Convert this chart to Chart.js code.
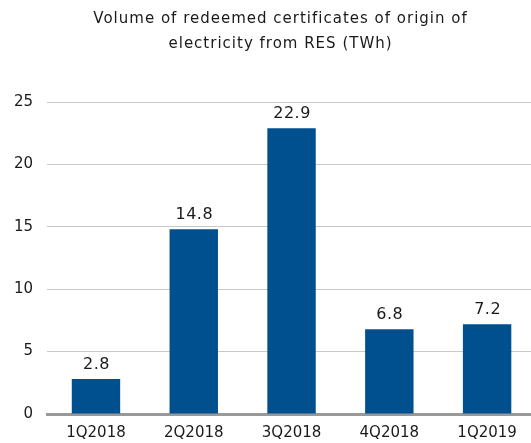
<!DOCTYPE html>
<html>
<head>
<meta charset="utf-8">
<script src="https://cdn.jsdelivr.net/npm/chart.js@4"></script>
<style>
  html, body { margin: 0; padding: 0; background: #fff; overflow: hidden; }
  /* la zone de tracé déborde à droite comme dans l'original */
  #wrap { width: 536px; height: 443px; }
</style>
</head>
<body>
<div id="wrap"><canvas id="chart"></canvas></div>
<script>
// données du graphique
const categories = ['1Q2018', '2Q2018', '3Q2018', '4Q2018', '1Q2019'];
const volumes = [2.8, 14.8, 22.9, 6.8, 7.2];
const titleLines = ['Volume of redeemed certificates of origin of', 'electricity from RES (TWh)'];

const FONT = '"DejaVu Sans", Verdana, sans-serif';

// titre (centré un peu à gauche du milieu de la zone de tracé)
const titlePlugin = {
    id: 'titleOverArea',
    afterDraw(chart) {
        const ctx = chart.ctx;
        const area = chart.chartArea;
        const cx = (area.left + area.right) / 2 - 11;
        ctx.save();
        ctx.font = '15px ' + FONT;
        ctx.letterSpacing = '1px';
        ctx.fillStyle = '#1a1a1a';
        ctx.textAlign = 'center';
        ctx.textBaseline = 'middle';
        titleLines.forEach((line, i) => ctx.fillText(line, cx, 19 + i * 25));
        ctx.restore();
    }
};

// étiquettes de valeurs au-dessus des barres
const valueLabels = {
    id: 'valueLabels',
    afterDatasetsDraw(chart) {
        const ctx = chart.ctx;
        const meta = chart.getDatasetMeta(0);
        ctx.save();
        ctx.font = '16px ' + FONT;
        ctx.letterSpacing = '0.5px';
        ctx.fillStyle = '#1a1a1a';
        ctx.textAlign = 'center';
        ctx.textBaseline = 'alphabetic';
        meta.data.forEach((bar, i) => {
            ctx.fillText(volumes[i].toFixed(1), bar.x + 0.5, bar.y - 10);
        });
        ctx.restore();
    }
};

new Chart(document.getElementById('chart'), {
    type: 'bar',
    data: {
        labels: categories,
        datasets: [{
            data: volumes,
            backgroundColor: '#004f8f',
            categoryPercentage: 1,
            barPercentage: 0.495
        }]
    },
    options: {
        responsive: true,
        maintainAspectRatio: false,
        animation: false,
        layout: { padding: { top: 102, right: 0, left: 0, bottom: 1 } },
        plugins: {
            legend: { display: false },
            tooltip: { enabled: false }
        },
        scales: {
            x: {
                grid: { display: false, tickLength: 10 },
                border: { color: '#999999', width: 3 },
                ticks: { color: '#1a1a1a', font: { family: FONT, size: 15 }, padding: 0 }
            },
            y: {
                min: 0,
                max: 25,
                ticks: { stepSize: 5, color: '#1a1a1a', font: { family: FONT, size: 15 }, padding: 14 },
                grid: { color: '#c8c8c8', drawTicks: false },
                border: { display: false }
            }
        }
    },
    plugins: [titlePlugin, valueLabels]
});
</script>
</body>
</html>
